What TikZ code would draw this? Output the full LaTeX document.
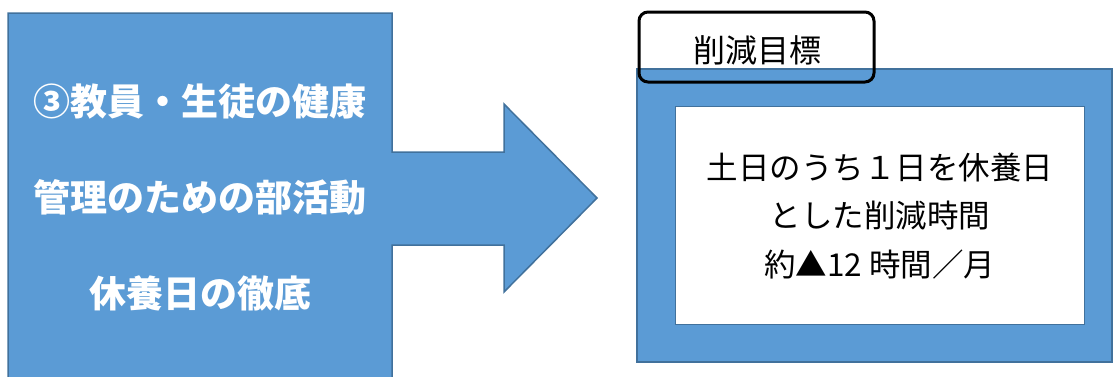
\documentclass[tikz,border=0pt]{standalone}
\usepackage{fontspec}
\newfontfamily\jpfont{Noto Sans CJK JP}
\usetikzlibrary{positioning}

\definecolor{fillblue}{HTML}{5B9BD5}
\definecolor{edgeblue}{HTML}{41719C}

\begin{document}
\begin{tikzpicture}[x=1pt,y=-1pt,
    bluebox/.style={fill=fillblue,draw=edgeblue,line width=1.5pt},
    whitetext/.style={text=white,font=\jpfont\bfseries\fontsize{37}{96}\selectfont,align=center},
    goaltext/.style={text=black,font=\jpfont\fontsize{31.5}{48.5}\selectfont,align=center}]
    \useasboundingbox (0,0) rectangle (1114,376);
    % left block with arrow
    \draw[bluebox] (8,13) -- (392,13) -- (392,152) -- (504,152) -- (504,104)
        -- (597,198) -- (504,292) -- (504,245) -- (392,245) -- (392,382)
        -- (8,382) -- cycle;
    \node[whitetext] (measure) at (200,198) {③教員・生徒の健康\\管理のための部活動\\休養日の徹底};
    % right block
    \draw[bluebox] (637,69) rectangle (1112,362);
    \draw[fill=white,draw=edgeblue,line width=1pt] (675,106) rectangle (1084,324);
    \node[goaltext] (goal) at (880,216) {土日のうち１日を休養日\\とした削減時間\\約▲12 時間／月};
    \draw[line width=3pt,rounded corners=9pt] (639,12) rectangle (874,82);
    \node[font=\jpfont\fontsize{32}{36}\selectfont] (title) at (757,50) {削減目標};
\end{tikzpicture}
\end{document}
